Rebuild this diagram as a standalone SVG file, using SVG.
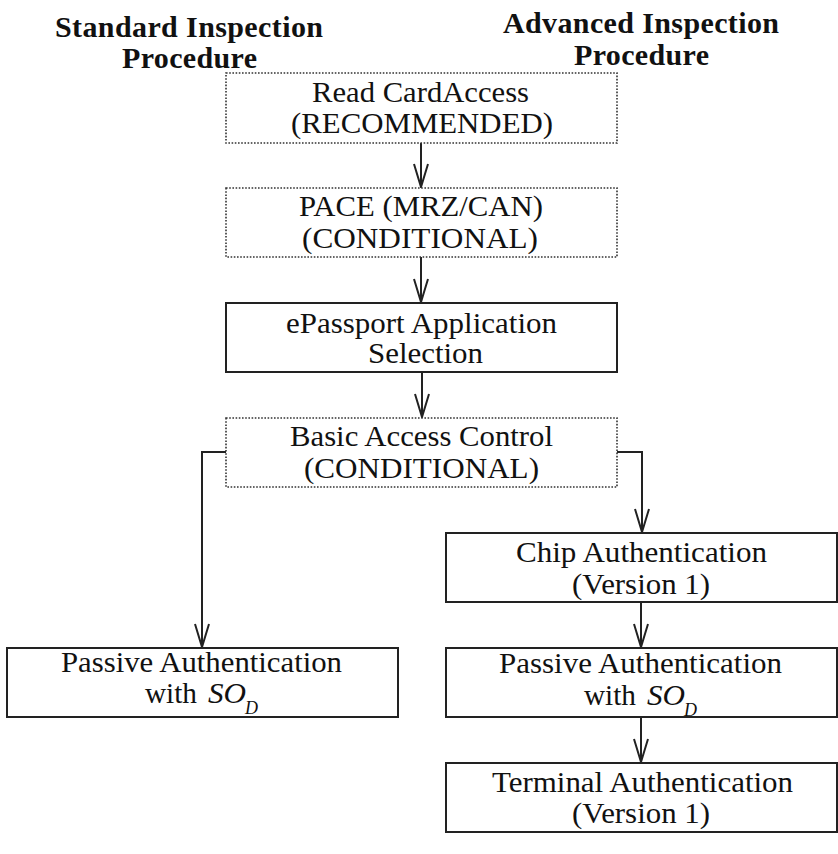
<svg xmlns="http://www.w3.org/2000/svg" width="838" height="854" viewBox="0 0 838 854">
<style>
text{font-family:"Liberation Serif","Times New Roman",serif;fill:#111;font-size:30px;text-anchor:middle}
.title{font-weight:bold}
.l{text-anchor:start}
.it{font-style:italic}
.sub{font-style:italic;font-size:18px;text-anchor:start}
.solid{fill:#fff;stroke:#222;stroke-width:2}
.dot{fill:#fff;stroke:#333;stroke-width:1.6;stroke-dasharray:1.6 1.6}
.conn{fill:none;stroke:#222;stroke-width:2}
</style>
<defs>
<marker id="arr" markerUnits="userSpaceOnUse" markerWidth="30" markerHeight="20" viewBox="-25 -10 27 20" refX="0" refY="0" orient="auto" overflow="visible">
<path d="M-23,-7 L0,0 L-23,7" fill="none" stroke="#222" stroke-width="2"/>
</marker>
</defs>
<g id="titles">
<text class="title" x="189" y="37" textLength="268" lengthAdjust="spacing">Standard Inspection</text>
<text class="title" x="189.5" y="68" textLength="135" lengthAdjust="spacing">Procedure</text>
<text class="title" x="641" y="33" textLength="276" lengthAdjust="spacing">Advanced Inspection</text>
<text class="title" x="641.5" y="65" textLength="135" lengthAdjust="spacing">Procedure</text>
</g>
<g id="connectors">
<path class="conn" d="M421,143 V187" marker-end="url(#arr)"/>
<path class="conn" d="M421,257 V302" marker-end="url(#arr)"/>
<path class="conn" d="M422,372 V417" marker-end="url(#arr)"/>
<path class="conn" d="M226,452 H202 V647" marker-end="url(#arr)"/>
<path class="conn" d="M617,452 H642 V532" marker-end="url(#arr)"/>
<path class="conn" d="M641,602 V647" marker-end="url(#arr)"/>
<path class="conn" d="M641,717 V762" marker-end="url(#arr)"/>
</g>
<g id="read-cardaccess">
<rect class="dot" x="226" y="73" width="391" height="70"/>
<text x="420.5" y="102" textLength="217" lengthAdjust="spacingAndGlyphs">Read CardAccess</text>
<text x="422" y="133" textLength="262" lengthAdjust="spacingAndGlyphs">(RECOMMENDED)</text>
</g>
<g id="pace">
<rect class="dot" x="226" y="188" width="391" height="69"/>
<text x="421" y="216" textLength="244" lengthAdjust="spacingAndGlyphs">PACE (MRZ/CAN)</text>
<text x="420" y="248" textLength="236" lengthAdjust="spacingAndGlyphs">(CONDITIONAL)</text>
</g>
<g id="epassport-selection">
<rect class="solid" x="226" y="303" width="391" height="69"/>
<text x="421.5" y="333" textLength="271" lengthAdjust="spacingAndGlyphs">ePassport Application</text>
<text x="425.5" y="363" textLength="115" lengthAdjust="spacingAndGlyphs">Selection</text>
</g>
<g id="basic-access-control">
<rect class="dot" x="226" y="418" width="391" height="69"/>
<text x="421.5" y="446" textLength="263" lengthAdjust="spacingAndGlyphs">Basic Access Control</text>
<text x="421.5" y="478" textLength="235" lengthAdjust="spacingAndGlyphs">(CONDITIONAL)</text>
</g>
<g id="chip-authentication">
<rect class="solid" x="446" y="533" width="391" height="69"/>
<text x="641.5" y="562" textLength="251" lengthAdjust="spacingAndGlyphs">Chip Authentication</text>
<text x="641" y="594" textLength="138" lengthAdjust="spacingAndGlyphs">(Version 1)</text>
</g>
<g id="passive-auth-standard">
<rect class="solid" x="7" y="648" width="391" height="69"/>
<text x="201.5" y="672" textLength="281" lengthAdjust="spacingAndGlyphs">Passive Authentication</text>
<text class="l" x="145" y="703" textLength="52" lengthAdjust="spacingAndGlyphs">with</text>
<text class="l it" x="208" y="703" textLength="38" lengthAdjust="spacingAndGlyphs">SO</text>
<text class="sub" x="245" y="714">D</text>
</g>
<g id="passive-auth-advanced">
<rect class="solid" x="446" y="648" width="391" height="69"/>
<text x="640.5" y="673" textLength="283" lengthAdjust="spacingAndGlyphs">Passive Authentication</text>
<text class="l" x="584" y="705" textLength="52" lengthAdjust="spacingAndGlyphs">with</text>
<text class="l it" x="647" y="705" textLength="38" lengthAdjust="spacingAndGlyphs">SO</text>
<text class="sub" x="684" y="716">D</text>
</g>
<g id="terminal-authentication">
<rect class="solid" x="446" y="763" width="391" height="69"/>
<text x="642.5" y="792" textLength="301" lengthAdjust="spacingAndGlyphs">Terminal Authentication</text>
<text x="641" y="823" textLength="138" lengthAdjust="spacingAndGlyphs">(Version 1)</text>
</g>
</svg>
